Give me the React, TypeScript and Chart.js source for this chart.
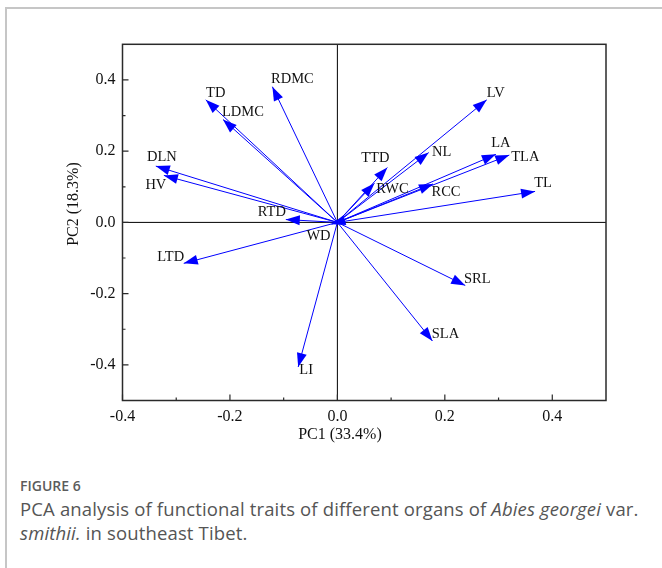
import React, { useEffect, useRef } from "react";
import { Chart, registerables } from "chart.js";

Chart.register(...registerables);

// ---- data ----
const traits = ["TD", "LDMC", "RDMC", "DLN", "HV", "RTD", "WD", "LTD", "LI", "SRL", "SLA", "LV", "NL", "TTD", "RWC", "RCC", "LA", "TLA", "TL"];
const pc1 = [-0.245, -0.213, -0.121, -0.338, -0.323, -0.096, -0.011, -0.286, -0.073, 0.238, 0.177, 0.278, 0.170, 0.093, 0.069, 0.178, 0.295, 0.320, 0.368];
const pc2 = [0.344, 0.289, 0.381, 0.158, 0.132, 0.008, -0.005, -0.115, -0.406, -0.177, -0.333, 0.344, 0.196, 0.154, 0.110, 0.108, 0.191, 0.189, 0.087];
const xTicks = [-0.4, -0.2, 0.0, 0.2, 0.4];
const yTicks = [-0.4, -0.2, 0.0, 0.2, 0.4];
const xMinor = [-0.3, -0.1, 0.1, 0.3];
const yMinor = [-0.3, -0.1, 0.1, 0.3];
const xTitle = "PC1 (33.4%)";
const yTitle = "PC2 (18.3%)";

// label placement relative to arrow tip (px), styling only
const labelDx = [10, 20, 20, 6, -8, -14, -13, -13, 8, 12, 13, 9, 13, -12, 18, 13, 5, 16, 8];
const labelDy = [-7, -7, -8, -9, 10, -7, 12, -6, 3, -6, -7, -7, 0, -9, 6, 8, -11, 2, -8];

const BLUE = "#0000ff";
const SERIF = "'Liberation Serif', 'Times New Roman', serif";

const pcaPlugin = {
  id: "pcaDecor",
  beforeDatasetsDraw(chart: any) {
    const { ctx, chartArea: a, scales } = chart;
    const x0 = scales.x.getPixelForValue(0);
    const y0 = scales.y.getPixelForValue(0);
    ctx.save();
    ctx.strokeStyle = "#000";
    ctx.lineWidth = 1;
    ctx.beginPath();
    ctx.moveTo(a.left, y0);
    ctx.lineTo(a.right, y0);
    ctx.moveTo(x0, a.top);
    ctx.lineTo(x0, a.bottom);
    ctx.stroke();
    ctx.restore();
  },
  afterDatasetsDraw(chart: any) {
    const { ctx, scales } = chart;
    const ox = scales.x.getPixelForValue(0);
    const oy = scales.y.getPixelForValue(0);
    ctx.save();
    ctx.fillStyle = BLUE;
    const L = 14;
    const W = 5;
    traits.forEach((t, i) => {
      const tx = scales.x.getPixelForValue(pc1[i]);
      const ty = scales.y.getPixelForValue(pc2[i]);
      const ang = Math.atan2(ty - oy, tx - ox);
      const bx = tx - L * Math.cos(ang);
      const by = ty - L * Math.sin(ang);
      const nx = -Math.sin(ang) * W;
      const ny = Math.cos(ang) * W;
      ctx.beginPath();
      ctx.moveTo(tx, ty);
      ctx.lineTo(bx + nx, by + ny);
      ctx.lineTo(bx - nx, by - ny);
      ctx.closePath();
      ctx.fill();
    });
    ctx.fillStyle = "#111";
    ctx.font = `14.5px ${SERIF}`;
    ctx.textAlign = "center";
    ctx.textBaseline = "middle";
    traits.forEach((t, i) => {
      const tx = scales.x.getPixelForValue(pc1[i]);
      const ty = scales.y.getPixelForValue(pc2[i]);
      ctx.fillText(t, tx + labelDx[i], ty + labelDy[i]);
    });
    ctx.restore();
  },
  afterDraw(chart: any) {
    const { ctx, chartArea: a, scales } = chart;
    ctx.save();
    // frame
    ctx.strokeStyle = "#2a2a2a";
    ctx.lineWidth = 1.5;
    ctx.strokeRect(a.left, a.top, a.right - a.left, a.bottom - a.top);
    // inward ticks
    ctx.lineWidth = 1.2;
    ctx.beginPath();
    xTicks.forEach((v) => {
      const px = scales.x.getPixelForValue(v);
      ctx.moveTo(px, a.bottom);
      ctx.lineTo(px, a.bottom - 6);
    });
    xMinor.forEach((v) => {
      const px = scales.x.getPixelForValue(v);
      ctx.moveTo(px, a.bottom);
      ctx.lineTo(px, a.bottom - 3);
    });
    yTicks.forEach((v) => {
      const py = scales.y.getPixelForValue(v);
      ctx.moveTo(a.left, py);
      ctx.lineTo(a.left + 6, py);
    });
    yMinor.forEach((v) => {
      const py = scales.y.getPixelForValue(v);
      ctx.moveTo(a.left, py);
      ctx.lineTo(a.left + 3, py);
    });
    ctx.stroke();
    // axis titles
    ctx.fillStyle = "#111";
    ctx.font = `16px ${SERIF}`;
    ctx.textAlign = "center";
    ctx.textBaseline = "middle";
    ctx.fillText(xTitle, 340, 435);
    ctx.translate(74, 204);
    ctx.rotate(-Math.PI / 2);
    ctx.fillText(yTitle, 0, 0);
    ctx.restore();
  },
};

function ChartCanvas() {
  const ref = useRef<HTMLCanvasElement>(null);
  useEffect(() => {
    if (!ref.current) return;
    const datasets = traits.map((t, i) => ({
      label: t,
      data: [
        { x: 0, y: 0 },
        { x: pc1[i], y: pc2[i] },
      ],
      showLine: true,
      borderColor: BLUE,
      backgroundColor: BLUE,
      borderWidth: 1,
      pointRadius: 0,
      pointHoverRadius: 0,
      clip: false as any,
    }));
    const tickFont = { family: SERIF, size: 16 };
    const chart = new Chart(ref.current, {
      type: "scatter",
      data: { datasets },
      plugins: [pcaPlugin],
      options: {
        animation: false,
        responsive: false,
        devicePixelRatio: 1,
        layout: { padding: { left: 0, top: 44.3, right: 56, bottom: 0 } },
        plugins: { legend: { display: false }, tooltip: { enabled: false } },
        scales: {
          x: {
            type: "linear",
            min: -0.4,
            max: 0.5,
            grid: { display: false, drawTicks: false },
            border: { display: false },
            afterBuildTicks: (s: any) => {
              s.ticks = xTicks.map((v) => ({ value: v }));
            },
            afterFit: (s: any) => {
              s.height = 69.5;
            },
            ticks: {
              color: "#111",
              font: tickFont,
              padding: 7,
              maxRotation: 0,
              autoSkip: false,
              callback: (v: any) => Number(v).toFixed(1),
            },
          },
          y: {
            type: "linear",
            min: -0.5,
            max: 0.5,
            grid: { display: false, drawTicks: false },
            border: { display: false },
            afterBuildTicks: (s: any) => {
              s.ticks = yTicks.map((v) => ({ value: v }));
            },
            afterFit: (s: any) => {
              s.width = 122.5;
            },
            ticks: {
              color: "#111",
              font: tickFont,
              padding: 7,
              autoSkip: false,
              callback: (v: any) => Number(v).toFixed(1),
            },
          },
        },
      },
    });
    return () => chart.destroy();
  }, []);
  return <canvas ref={ref} width={662} height={470} style={{ position: "absolute", left: 0, top: 0, width: 662, height: 470 }} />;
}

export default function App() {
  return (
    <div style={{ position: "fixed", left: 0, top: 0, width: 662, height: 568, overflow: "hidden", background: "#fff" }}>
      <div style={{ position: "absolute", left: 5, top: 7, width: 720, height: 640, border: "2px solid #c6c6c6", boxSizing: "border-box" }} />
      <ChartCanvas />
      <div style={{ position: "absolute", left: 20, top: 476, width: 636, fontFamily: "'Open Sans', sans-serif", color: "#555" }}>
        <div style={{ fontSize: 14, fontWeight: 600, lineHeight: "20px", color: "#5c5c5c" }}>FIGURE 6</div>
        <div style={{ fontSize: 18.5, lineHeight: "24px", color: "#555", marginTop: 1, letterSpacing: "0.15px" }}>
          PCA analysis of functional traits of different organs of <i>Abies georgei</i> var. <i>smithii.</i> in southeast Tibet.
        </div>
      </div>
    </div>
  );
}
